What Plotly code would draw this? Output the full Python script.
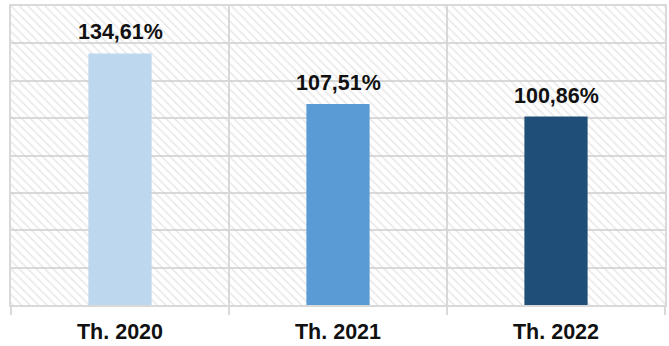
import plotly.graph_objects as go

categories = ["Th. 2020", "Th. 2021", "Th. 2022"]
values = [134.61, 107.51, 100.86]
bar_colors = ["#BDD7EE", "#5B9BD5", "#1F4E79"]
y_max = 160
y_step = 20

positions = list(range(len(categories)))
labels = [f"{v:.2f}".replace(".", ",") + "%" for v in values]

fig = go.Figure()

# hatched plot background
fig.add_trace(go.Bar(
    x=[(len(categories) - 1) / 2], y=[y_max], width=[len(categories)],
    marker=dict(color="rgba(0,0,0,0)", line=dict(width=0),
                pattern=dict(shape="\\", fgcolor="#cfcfcf", bgcolor="rgba(0,0,0,0)",
                             size=6, solidity=0.25, fillmode="overlay")),
    hoverinfo="skip", showlegend=False,
))

fig.add_trace(go.Bar(
    x=positions, y=values, width=0.29,
    marker=dict(color=bar_colors, line=dict(width=0)),
    showlegend=False,
))

for p, v, t in zip(positions, values, labels):
    fig.add_annotation(x=p, y=v, text=f"<b>{t}</b>", showarrow=False,
                       yanchor="bottom", yshift=7,
                       font=dict(family="Liberation Sans, Arial", size=21.5, color="#111111"))

fig.update_layout(
    width=669, height=346,
    margin=dict(l=11, r=4, t=6, b=41, autoexpand=False),
    paper_bgcolor="white", plot_bgcolor="white",
    barmode="overlay",
    font=dict(family="Liberation Sans, Arial", size=21.5, color="#111111"),
    xaxis=dict(
        range=[-0.5, len(categories) - 0.5],
        tickmode="array", tickvals=positions,
        ticktext=[f"<b>{c}</b>" for c in categories],
        showgrid=False, ticks="", zeroline=False, automargin=False,
        showline=True, linecolor="#d9d9d9", linewidth=2, mirror=True,
        ticklabelstandoff=6,
        minor=dict(tickmode="array",
                   tickvals=[p + 0.5 for p in [-1] + positions],
                   showgrid=True, gridcolor="#d9d9d9", gridwidth=2,
                   ticks="outside", ticklen=8, tickcolor="#d9d9d9", tickwidth=2),
    ),
    yaxis=dict(
        range=[0, y_max], dtick=y_step, showticklabels=False, automargin=False,
        showgrid=True, gridcolor="#d9d9d9", gridwidth=2, zeroline=False,
        showline=True, linecolor="#d9d9d9", linewidth=2, mirror=True,
    ),
)

fig.write_html("out.html")
